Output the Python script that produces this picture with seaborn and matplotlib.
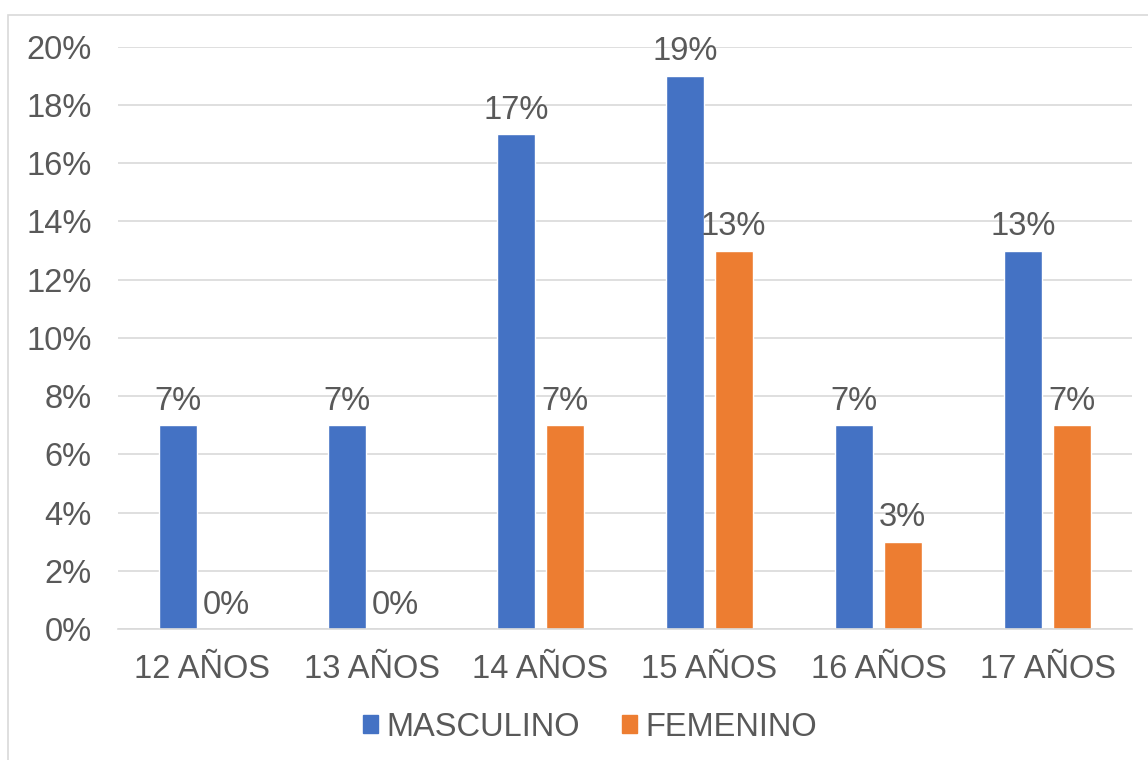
import matplotlib
matplotlib.use("Agg")
import matplotlib.pyplot as plt
import seaborn as sns
import pandas as pd
from matplotlib.patches import Rectangle

categories = ["12 AÑOS", "13 AÑOS", "14 AÑOS", "15 AÑOS", "16 AÑOS", "17 AÑOS"]
masculino = [7, 7, 17, 19, 7, 13]
femenino = [0, 0, 7, 13, 3, 7]
series_names = ["MASCULINO", "FEMENINO"]
colors = ["#4472C4", "#ED7D31"]

df = pd.DataFrame({
    "cat": categories * 2,
    "val": masculino + femenino,
    "serie": [series_names[0]] * len(categories) + [series_names[1]] * len(categories),
})

sns.set_theme(style="white")
plt.rcParams["font.family"] = ["Liberation Sans", "DejaVu Sans"]
txt = "#595959"
fs = 23.5

fig = plt.figure(figsize=(11.48, 7.6), dpi=100)
ax = fig.add_axes([118 / 1148, 1 - 629 / 760, (1132 - 118) / 1148, (629 - 46.7) / 760])

sns.barplot(data=df, x="cat", y="val", hue="serie", palette=colors, ax=ax,
            width=0.57, gap=0.21, order=categories, hue_order=series_names,
            legend=False, saturation=1)

ax.set_ylim(0, 20)
ax.set_xlim(-0.5, len(categories) - 0.5)
ax.set_yticks(range(0, 21, 2))
ax.set_yticklabels([f"{v}%" for v in range(0, 21, 2)])
ax.yaxis.grid(True, color="#D9D9D9", linewidth=1.2)
ax.set_axisbelow(True)
for s in ["top", "right", "left"]:
    ax.spines[s].set_visible(False)
ax.spines["bottom"].set_color("#D9D9D9")
ax.spines["bottom"].set_linewidth(1.2)
ax.tick_params(axis="y", length=0, pad=19, labelsize=fs, labelcolor=txt)
ax.tick_params(axis="x", length=0, pad=18, labelsize=fs, labelcolor=txt)
ax.set_xlabel("")
ax.set_ylabel("")

for container in ax.containers:
    ax.bar_label(container, labels=[f"{int(v)}%" for v in container.datavalues],
                 padding=6, fontsize=fs, color=txt)

handles = [Rectangle((0, 0), 1, 1, color=c) for c in colors]
fig.legend(handles, series_names, loc="center", bbox_to_anchor=(590 / 1148, 1 - 727 / 760),
           ncol=2, frameon=False, fontsize=fs, labelcolor=txt,
           handlelength=0.47, handleheight=0.47, handletextpad=0.25, columnspacing=1.3)

border = Rectangle((8 / 1148, -0.1), 1.2, 1 - 15 / 760 + 0.1, transform=fig.transFigure,
                   fill=False, edgecolor="#D9D9D9", linewidth=1.2)
fig.add_artist(border)

fig.savefig("out.png", dpi=100)
